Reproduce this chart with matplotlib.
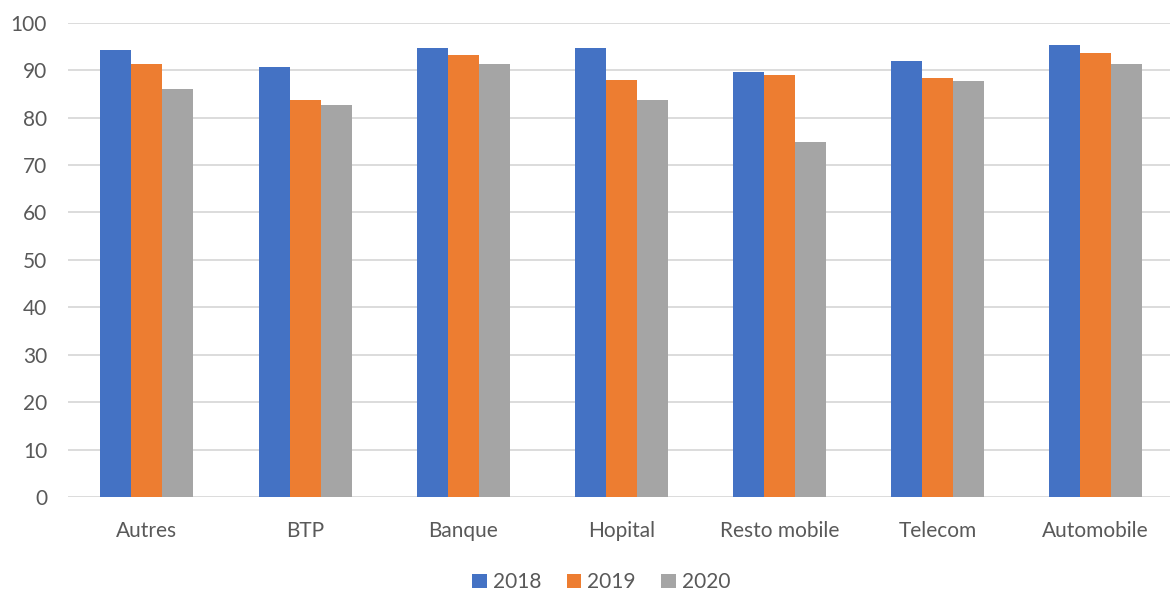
import matplotlib.pyplot as plt
import numpy as np

# data
categories = ["Autres", "BTP", "Banque", "Hopital", "Resto mobile", "Telecom", "Automobile"]
years = ["2018", "2019", "2020"]
v2018 = [94.2, 90.7, 94.7, 94.7, 89.6, 91.9, 95.3]
v2019 = [91.3, 83.8, 93.1, 87.9, 89.0, 88.4, 93.6]
v2020 = [86.0, 82.7, 91.3, 83.8, 74.8, 87.8, 91.3]
colors = ["#4472C4", "#ED7D31", "#A5A5A5"]

plt.rcParams['font.family'] = ['Lato', 'DejaVu Sans']
txt = "#595959"

fig = plt.figure(figsize=(11.7, 5.93), dpi=100)
ax = fig.add_axes([0.058, 0.162, 0.942, 0.7997])

x = np.arange(len(categories))
w = 0.196
for i, (vals, yr) in enumerate(zip([v2018, v2019, v2020], years)):
    ax.bar(x + (i - 1) * w, vals, w, color=colors[i], label=yr, zorder=3)

ax.set_ylim(0, 100)
ax.set_xlim(-0.5, 6.47)
ax.set_yticks(range(0, 101, 10))
ax.set_xticks(x)
ax.set_xticklabels(categories)
ax.grid(axis='y', color="#D9D9D9", linewidth=1.3, zorder=0)
for s in ax.spines.values():
    s.set_visible(False)
ax.tick_params(axis='both', length=0, labelsize=15, colors=txt)
ax.tick_params(axis='x', pad=17)
ax.tick_params(axis='y', pad=15)

fig.legend(loc='center', bbox_to_anchor=(0.514, 0.018), ncol=3, frameon=False,
           fontsize=15, handlelength=0.7, handleheight=0.7, handletextpad=0.3,
           columnspacing=1.2, labelcolor=txt)

fig.savefig("out.png", dpi=100)
